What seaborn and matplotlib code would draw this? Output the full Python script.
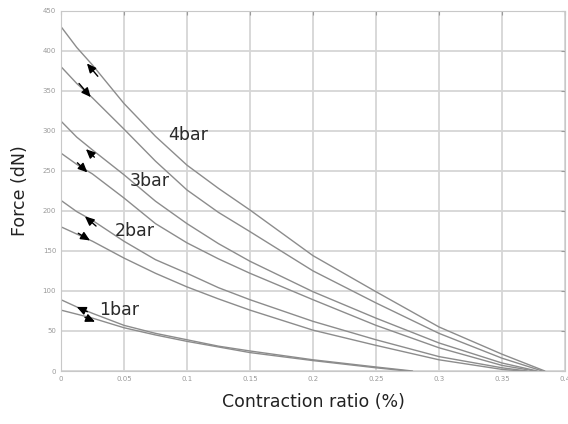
#!/usr/bin/env python3
import matplotlib

matplotlib.use("Agg")
import matplotlib.pyplot as plt
import pandas as pd
import seaborn as sns

# contraction ratio sample points
x_hi = [0, 0.0125, 0.025, 0.05, 0.075, 0.1, 0.125, 0.15, 0.2, 0.25, 0.3, 0.35]
x_1bar = [0, 0.0125, 0.025, 0.05, 0.075, 0.1, 0.125, 0.15, 0.2, 0.25]

# end points where each curve reaches zero force
end_x = {
    "4bar up": 0.384, "4bar down": 0.382,
    "3bar up": 0.378, "3bar down": 0.376,
    "2bar up": 0.370, "2bar down": 0.366,
    "1bar up": 0.279, "1bar down": 0.275,
}

force_4bar_up = [430, 404, 382, 334, 293, 257, 228, 201, 144, 99, 55, 21]
force_4bar_down = [380, 359, 341, 302, 262, 226, 198, 174, 125, 85, 47, 16]
force_3bar_up = [312, 292, 276, 245, 212, 184, 159, 137, 99, 66, 35, 10]
force_3bar_down = [272, 258, 246, 216, 184, 160, 140, 122, 89, 57, 29, 7]
force_2bar_up = [213, 199, 188, 162, 139, 122, 104, 89, 62, 39, 18, 4]
force_2bar_down = [180, 171, 162, 141, 122, 105, 90, 76, 51, 32, 14, 2]
force_1bar_up = [89, 80, 72, 57, 47, 39, 31, 25, 14, 5]
force_1bar_down = [76, 71, 66, 54, 45, 37, 30, 23, 13, 4]

curve_labels = ["4bar", "3bar", "2bar", "1bar"]
label_pos = [(0.101, 295), (0.0706, 237), (0.0587, 175), (0.046, 76)]

# arrows: (tail, head) in data coords
arrows = [
    ((0.0292, 368), (0.0206, 384)),
    ((0.0143, 359), (0.0236, 342)),
    ((0.0265, 267), (0.0198, 277)),
    ((0.0130, 260), (0.0209, 248)),
    ((0.0278, 181), (0.0190, 193)),
    ((0.0137, 172), (0.0230, 163)),
    ((0.0209, 74), (0.0125, 80)),
    ((0.0190, 67), (0.0270, 61.5)),
]


def build_frame():
    series = {
        "4bar up": (x_hi, force_4bar_up),
        "4bar down": (x_hi, force_4bar_down),
        "3bar up": (x_hi, force_3bar_up),
        "3bar down": (x_hi, force_3bar_down),
        "2bar up": (x_hi, force_2bar_up),
        "2bar down": (x_hi, force_2bar_down),
        "1bar up": (x_1bar, force_1bar_up),
        "1bar down": (x_1bar, force_1bar_down),
    }
    rows = []
    for name, (xs, ys) in series.items():
        for xv, yv in zip(xs + [end_x[name]], ys + [0]):
            rows.append({"curve": name, "ratio": xv, "force": yv})
    return pd.DataFrame(rows)


def main():
    df = build_frame()

    sns.set_style("whitegrid", {
        "grid.color": "#d6d6d6",
        "axes.edgecolor": "#c8c8c8",
    })
    plt.rcParams["font.family"] = ["DejaVu Sans"]

    fig = plt.figure(figsize=(5.68, 4.24), dpi=100)
    ax = fig.add_axes([0.1074, 0.125, 0.8873, 0.85])

    palette = {name: "#8c8c8c" for name in df["curve"].unique()}
    sns.lineplot(
        data=df, x="ratio", y="force", hue="curve", units="curve",
        estimator=None, palette=palette, lw=1.0, sort=False,
        legend=False, ax=ax,
    )

    for text, (tx, ty) in zip(curve_labels, label_pos):
        ax.text(tx, ty, text, fontsize=12.5, ha="center", va="center",
                color="#2a2a2a")

    for tail, head in arrows:
        ax.annotate(
            "", xy=head, xytext=tail,
            arrowprops=dict(arrowstyle="-|>,head_length=0.55,head_width=0.25",
                            color="black", lw=1.0, shrinkA=0, shrinkB=0),
        )

    ax.set_xlim(0, 0.4)
    ax.set_ylim(0, 450)
    ax.set_xticks([0, 0.05, 0.1, 0.15, 0.2, 0.25, 0.3, 0.35, 0.4])
    ax.set_xticklabels(["0", "0.05", "0.1", "0.15", "0.2", "0.25", "0.3",
                        "0.35", "0.4"])
    ax.set_yticks(range(0, 451, 50))
    ax.tick_params(axis="both", labelsize=5, colors="#9a9a9a", length=3,
                   direction="in", right=True, top=True)
    ax.grid(True, lw=1.3)

    ax.set_xlabel("Contraction ratio (%)", fontsize=12.5, color="#222222",
                  labelpad=8)
    ax.set_ylabel("Force (dN)", fontsize=12.5, color="#222222", labelpad=10)

    fig.savefig("out.png", dpi=100)
    plt.close(fig)


if __name__ == "__main__":
    main()
